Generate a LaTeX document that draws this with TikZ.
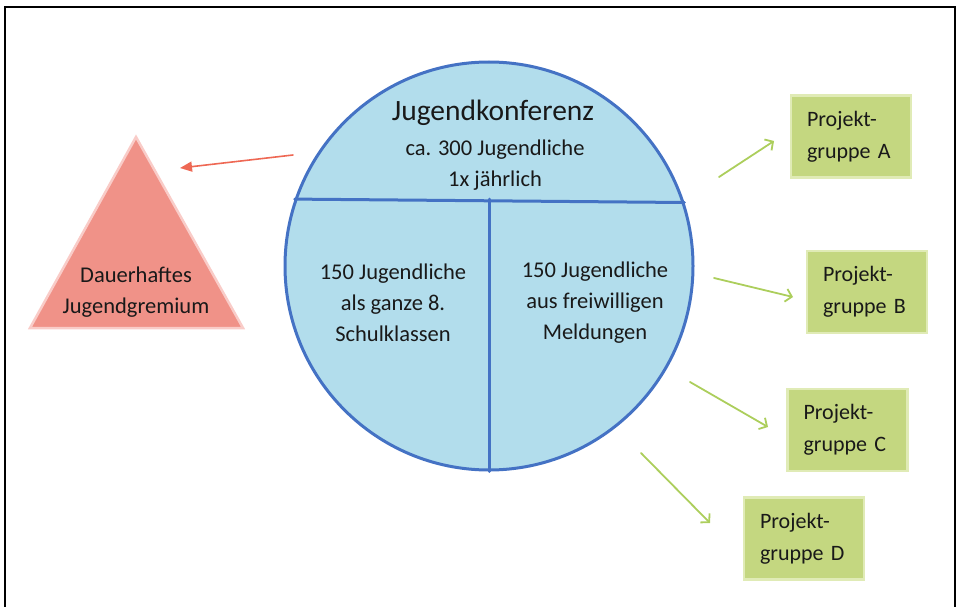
\documentclass[tikz,border=0pt]{standalone}
\usepackage{fontspec}
\setmainfont{Carlito}
\usetikzlibrary{arrows.meta, positioning}
\tikzset{help lines/.style=very thin}

\begin{document}
\begin{tikzpicture}[x=1pt, y=-1pt, line cap=round,
    %Style
    frame line/.style={line width=1.4pt},
    konf circle/.style={circle, draw=circleline, fill=circlefill, line width=3pt, minimum size=408pt, inner sep=0pt},
    konf line/.style={draw=circleline, line width=3pt},
    body text/.style={font=\fontsize{22.5}{31}\selectfont, text=textcolor, align=center, inner sep=0pt},
    title text/.style={font=\fontsize{29.5}{34}\selectfont, text=textcolor, inner sep=0pt},
    group box/.style={rectangle, fill=boxfill, draw=boxline, line width=2.5pt, minimum width=120pt, minimum height=82pt,
      text width=88pt, align=left, inner xsep=16pt, font=\fontsize{22}{32}\selectfont, text=textcolor},
    group arrow/.style={draw=arrowgreen, line width=1.8pt, -{Straight Barb[length=6pt, width=13pt]}},
    gremium arrow/.style={draw=arrowred, line width=1.6pt, -{Triangle[length=12pt, width=10pt]}}]
    %Colors
    \definecolor{circlefill}{RGB}{178,221,236}
    \definecolor{circleline}{RGB}{68,114,196}
    \definecolor{gremiumfill}{RGB}{240,146,136}
    \definecolor{gremiumline}{RGB}{249,204,200}
    \definecolor{arrowred}{RGB}{238,104,84}
    \definecolor{boxfill}{RGB}{196,215,128}
    \definecolor{boxline}{RGB}{224,235,182}
    \definecolor{arrowgreen}{RGB}{172,206,92}
    \definecolor{textcolor}{RGB}{25,25,25}

    \useasboundingbox (0,0) rectangle (961,607);
    \draw[frame line] (5,607) -- (5,7) -- (955,7) -- (955,607);

    %The conference circle
    \node[konf circle] (konf) at (489,266) {};
    \coordinate (chord left) at (konf.161.7);
    \coordinate (chord right) at (konf.18.3);
    \draw[konf line] (chord left) -- (chord right);
    \draw[konf line] (konf.south) -- (konf.south |- chord left);

    \node[title text] (konftitle) at (493,113) {Jugendkonferenz};
    \node[body text] (konfinfo) at (495,165.5) {ca. 300 Jugendliche\\1x jährlich};
    \node[body text] (schule) at (393,303) {150 Jugendliche\\als ganze 8.\\Schulklassen};
    \node[body text] (freiwillig) at (595,303) {150 Jugendliche\\aus freiwilligen\\Meldungen};

    %The committee
    \coordinate (gremium top) at (136,137);
    \coordinate (gremium left) at (30,328);
    \coordinate (gremium right) at (243,328);
    \filldraw[fill=gremiumfill, draw=gremiumline, line width=2.5pt, line join=miter]
      (gremium top) -- (gremium left) -- (gremium right) -- cycle;
    \node[body text] (gremium) at (136,292) {Dauerhaftes\\Jugendgremium};

    \coordinate (gremium start) at (293,155);
    \coordinate (gremium end) at (180,168);
    \draw[gremium arrow] (gremium start) -- (gremium end);

    %Project groups
    \node[group box] (gruppeA) at (851,136.5) {Projekt-\\gruppe A};
    \node[group box] (gruppeB) at (867,292) {Projekt-\\gruppe B};
    \node[group box] (gruppeC) at (847.5,430) {Projekt-\\gruppe C};
    \node[group box] (gruppeD) at (804,538.5) {Projekt-\\gruppe D};

    \foreach \g/\sx/\sy/\ex/\ey in {A/719/177/774/141, B/714/278/793/297, C/690/382/768/427, D/641/453/710/523}
    {
      \coordinate (\g start) at (\sx,\sy);
      \coordinate (\g end) at (\ex,\ey);
      \draw[group arrow] (\g start) -- (\g end);
    }
\end{tikzpicture}
\end{document}
